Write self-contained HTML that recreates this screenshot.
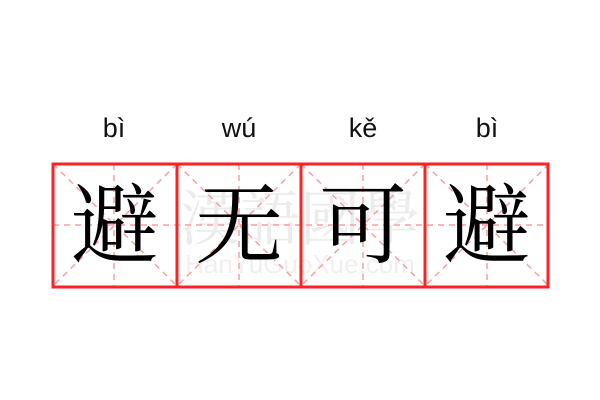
<!DOCTYPE html>
<html><head><meta charset="utf-8"><style>
html,body{margin:0;padding:0;background:#fff;width:600px;height:400px;overflow:hidden}
</style></head><body>
<svg width="600" height="400" xmlns="http://www.w3.org/2000/svg">
<g font-family="'Liberation Sans','DejaVu Sans',sans-serif" font-size="27" fill="#111" text-anchor="middle">
<text x="114" y="137">bì</text>
<text x="239" y="137">wú</text>
<text x="363" y="137">kě</text>
<text x="487" y="137">bì</text>
</g>
<g font-family="'Noto Serif CJK SC',serif" font-size="60" fill="#ececec" text-anchor="middle">
<text x="300" y="240">漢語國學</text>
</g>
<text x="300" y="273" font-family="'Liberation Sans',sans-serif" font-size="26" fill="#f0f0f0" text-anchor="middle">HanYuGuoXue.com</text>
<g stroke="#f7a0a0" stroke-width="1.5" stroke-dasharray="6,5" fill="none">
<line x1="53" y1="225" x2="548" y2="225"/>
<line x1="114" y1="164" x2="114" y2="286"/>
<line x1="239" y1="164" x2="239" y2="286"/>
<line x1="363" y1="164" x2="363" y2="286"/>
<line x1="487" y1="164" x2="487" y2="286"/>
<line x1="53" y1="164" x2="177" y2="286"/><line x1="177" y1="164" x2="53" y2="286"/>
<line x1="177" y1="164" x2="301" y2="286"/><line x1="301" y1="164" x2="177" y2="286"/>
<line x1="301" y1="164" x2="425" y2="286"/><line x1="425" y1="164" x2="301" y2="286"/>
<line x1="425" y1="164" x2="549" y2="286"/><line x1="549" y1="164" x2="425" y2="286"/>
</g>
<g font-family="'Noto Serif CJK SC','Noto Sans CJK SC',serif" font-size="88" fill="#000" text-anchor="middle">
<text x="115" y="256">避</text>
<text x="239" y="256">无</text>
<text x="363" y="256">可</text>
<text x="487" y="256">避</text>
</g>
<g stroke="#ff2222" stroke-width="3" fill="none">
<rect x="53" y="164" width="495" height="123"/>
<line x1="177" y1="164" x2="177" y2="287"/>
<line x1="301" y1="164" x2="301" y2="287"/>
<line x1="425" y1="164" x2="425" y2="287"/>
</g>
</svg>
</body></html>
